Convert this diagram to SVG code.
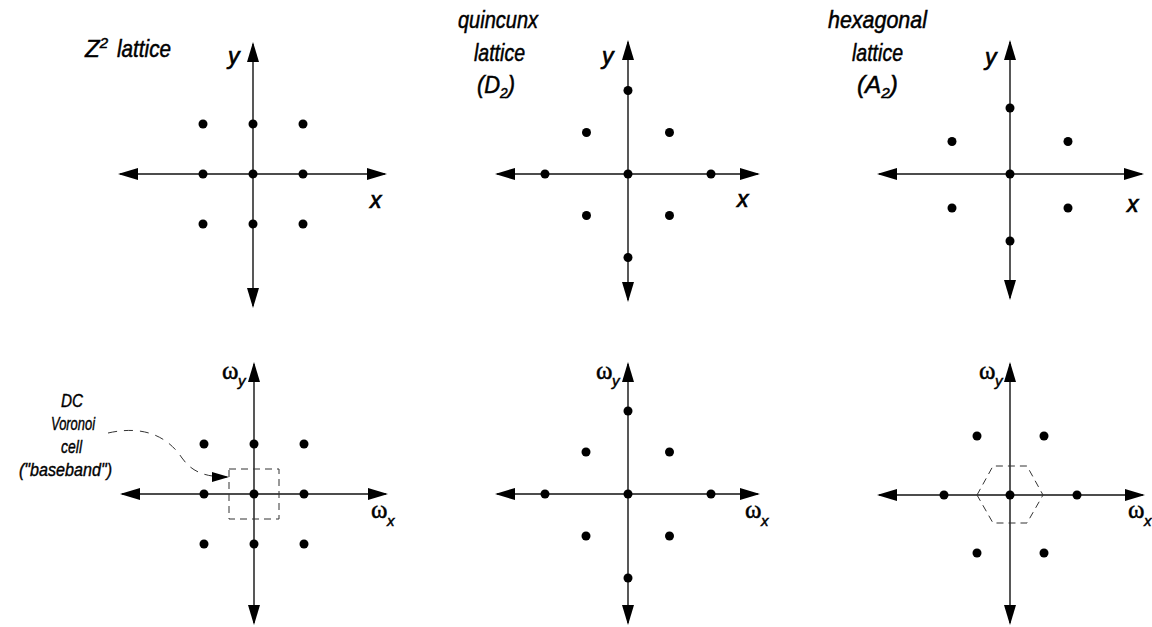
<svg xmlns="http://www.w3.org/2000/svg" width="1152" height="627" viewBox="0 0 1152 627">
<defs>
<marker id="ah" markerUnits="userSpaceOnUse" markerWidth="20" markerHeight="12" refX="18" refY="6" orient="auto-start-reverse"><path d="M0,0 L20,6 L0,12 z" fill="#000"/></marker>
<marker id="ah2" markerUnits="userSpaceOnUse" markerWidth="17" markerHeight="10" refX="15" refY="5" orient="auto"><path d="M0,0 L17,5 L0,10 z" fill="#000"/></marker>
</defs>
<style>
.ax{stroke:#111;stroke-width:1.4;fill:none;marker-start:url(#ah);marker-end:url(#ah)}
.dot{fill:#000}
.t{font-family:"Liberation Sans",Arial,sans-serif;font-style:italic;font-size:24px;fill:#000;stroke:#000;stroke-width:0.5}
.lab{font-family:"Liberation Sans",Arial,sans-serif;font-style:italic;font-size:23px;fill:#000;stroke:#000;stroke-width:0.7}
.om{font-family:"Liberation Serif","DejaVu Serif",serif;font-size:25px;fill:#000;stroke:#000;stroke-width:0.5}
.sub{font-family:"Liberation Sans",Arial,sans-serif;font-style:italic;font-size:15px;fill:#000;stroke:#000;stroke-width:0.5}
.ann{font-family:"Liberation Sans",Arial,sans-serif;font-style:italic;font-size:18px;fill:#000;stroke:#000;stroke-width:0.4}
.dash{fill:none;stroke:#333;stroke-width:1;stroke-dasharray:7,5}
</style>
<rect width="1152" height="627" fill="#fff"/>

<g id="z2-lattice">
<line class="ax" x1="120" y1="174" x2="385" y2="174"/>
<line class="ax" x1="253" y1="44" x2="253" y2="306"/>
<circle class="dot" cx="203" cy="124" r="4.5"/><circle class="dot" cx="253" cy="124" r="4.5"/><circle class="dot" cx="303" cy="124" r="4.5"/>
<circle class="dot" cx="203" cy="174" r="4.5"/><circle class="dot" cx="253" cy="174" r="4.5"/><circle class="dot" cx="303" cy="174" r="4.5"/>
<circle class="dot" cx="203" cy="224" r="4.5"/><circle class="dot" cx="253" cy="224" r="4.5"/><circle class="dot" cx="303" cy="224" r="4.5"/>
<text class="t" x="85" y="57">Z<tspan font-size="15" dy="-9">2</tspan><tspan x="117" dy="9" textLength="54" lengthAdjust="spacingAndGlyphs">lattice</tspan></text>
<text class="lab" x="228" y="64">y</text>
<text class="lab" x="370" y="208">x</text>
</g>

<g id="quincunx-lattice">
<line class="ax" x1="497" y1="174" x2="758" y2="174"/>
<line class="ax" x1="628" y1="42" x2="628" y2="300"/>
<circle class="dot" cx="628" cy="90.5" r="4.5"/><circle class="dot" cx="628" cy="257.5" r="4.5"/>
<circle class="dot" cx="545" cy="174" r="4.5"/><circle class="dot" cx="628" cy="174" r="4.5"/><circle class="dot" cx="711" cy="174" r="4.5"/>
<circle class="dot" cx="586.5" cy="132.5" r="4.5"/><circle class="dot" cx="669.5" cy="132.5" r="4.5"/>
<circle class="dot" cx="586.5" cy="215.5" r="4.5"/><circle class="dot" cx="669.5" cy="215.5" r="4.5"/>
<text class="t" x="458" y="28" textLength="80" lengthAdjust="spacingAndGlyphs">quincunx</text>
<text class="t" x="474" y="61" textLength="51" lengthAdjust="spacingAndGlyphs">lattice</text>
<text class="t" x="477" y="93" textLength="38" lengthAdjust="spacingAndGlyphs">(D<tspan font-size="15" dy="5">2</tspan><tspan dy="-5">)</tspan></text>
<text class="lab" x="602" y="64">y</text>
<text class="lab" x="737" y="207">x</text>
</g>

<g id="hexagonal-lattice">
<line class="ax" x1="879" y1="174" x2="1142" y2="174"/>
<line class="ax" x1="1010" y1="42" x2="1010" y2="298"/>
<circle class="dot" cx="1010" cy="108" r="4.5"/><circle class="dot" cx="1010" cy="174" r="4.5"/><circle class="dot" cx="1010" cy="241" r="4.5"/>
<circle class="dot" cx="952" cy="141.5" r="4.5"/><circle class="dot" cx="1068" cy="141.5" r="4.5"/>
<circle class="dot" cx="952" cy="208" r="4.5"/><circle class="dot" cx="1068" cy="208" r="4.5"/>
<text class="t" x="828" y="28" textLength="99" lengthAdjust="spacingAndGlyphs">hexagonal</text>
<text class="t" x="852" y="61" textLength="51" lengthAdjust="spacingAndGlyphs">lattice</text>
<text class="t" x="857" y="93" textLength="41" lengthAdjust="spacingAndGlyphs">(A<tspan font-size="15" dy="5">2</tspan><tspan dy="-5">)</tspan></text>
<text class="lab" x="985" y="65">y</text>
<text class="lab" x="1127" y="212">x</text>
</g>

<g id="z2-spectrum">
<line class="ax" x1="122" y1="494" x2="386" y2="494"/>
<line class="ax" x1="254" y1="364" x2="254" y2="623"/>
<rect class="dash" x="229" y="469" width="50" height="50"/>
<circle class="dot" cx="204" cy="444" r="4.5"/><circle class="dot" cx="254" cy="444" r="4.5"/><circle class="dot" cx="304" cy="444" r="4.5"/>
<circle class="dot" cx="204" cy="494" r="4.5"/><circle class="dot" cx="254" cy="494" r="4.5"/><circle class="dot" cx="304" cy="494" r="4.5"/>
<circle class="dot" cx="204" cy="544" r="4.5"/><circle class="dot" cx="254" cy="544" r="4.5"/><circle class="dot" cx="304" cy="544" r="4.5"/>
<text class="om" x="222" y="379">ω</text><text class="sub" x="238" y="386">y</text>
<text class="om" x="371" y="518">ω</text><text class="sub" x="387" y="526">x</text>
</g>

<g id="voronoi-label">
<text class="ann" x="61" y="407" textLength="22" lengthAdjust="spacingAndGlyphs">DC</text>
<text class="ann" x="51" y="430" textLength="44" lengthAdjust="spacingAndGlyphs">Voronoi</text>
<text class="ann" x="61" y="453" textLength="21" lengthAdjust="spacingAndGlyphs">cell</text>
<text class="ann" x="19" y="476" textLength="93" lengthAdjust="spacingAndGlyphs">("baseband")</text>
</g>

<g id="quincunx-spectrum">
<line class="ax" x1="497" y1="494" x2="758" y2="494"/>
<line class="ax" x1="628" y1="364" x2="628" y2="623"/>
<circle class="dot" cx="628" cy="411" r="4.5"/><circle class="dot" cx="628" cy="578" r="4.5"/>
<circle class="dot" cx="545" cy="494" r="4.5"/><circle class="dot" cx="628" cy="494" r="4.5"/><circle class="dot" cx="711" cy="494" r="4.5"/>
<circle class="dot" cx="586" cy="452" r="4.5"/><circle class="dot" cx="669.5" cy="452" r="4.5"/>
<circle class="dot" cx="586" cy="536" r="4.5"/><circle class="dot" cx="669.5" cy="536" r="4.5"/>
<text class="om" x="596" y="379">ω</text><text class="sub" x="612" y="386">y</text>
<text class="om" x="745" y="518">ω</text><text class="sub" x="761" y="526">x</text>
</g>

<g id="hexagonal-spectrum">
<line class="ax" x1="879" y1="495" x2="1143" y2="495"/>
<line class="ax" x1="1010" y1="364" x2="1010" y2="623"/>
<polygon class="dash" points="977,495 993,466 1027,466 1043,495 1027,523 993,523"/>
<circle class="dot" cx="944" cy="495" r="4.5"/><circle class="dot" cx="1010" cy="495" r="4.5"/><circle class="dot" cx="1077" cy="495" r="4.5"/>
<circle class="dot" cx="977" cy="436" r="4.5"/><circle class="dot" cx="1044" cy="436" r="4.5"/>
<circle class="dot" cx="977" cy="553" r="4.5"/><circle class="dot" cx="1044" cy="553" r="4.5"/>
<text class="om" x="979" y="379">ω</text><text class="sub" x="995" y="386">y</text>
<text class="om" x="1128" y="518">ω</text><text class="sub" x="1144" y="526">x</text>
</g>

<g id="connectors">
<path class="dash" d="M108,433 C148,424 170,440 182,458 C192,472 205,477 227,477" style="stroke-dasharray:9,7" marker-end="url(#ah2)"/>
</g>
</svg>
